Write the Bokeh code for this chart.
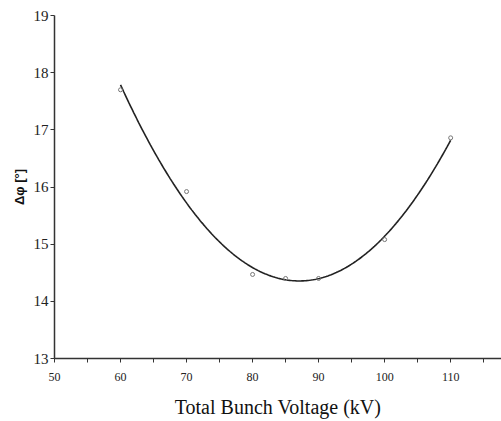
import numpy as np
from bokeh.plotting import figure
from bokeh.models import FixedTicker, Range1d
from bokeh.embed import file_html
from bokeh.resources import INLINE

# Data
voltage_kv = [60, 70, 80, 85, 90, 100, 110]
delta_phi = [17.70, 15.92, 14.47, 14.40, 14.40, 15.08, 16.86]

x_ticks = [50, 55, 60, 65, 70, 75, 80, 85, 90, 95, 100, 105, 110, 115]
x_tick_labels = {50: "50", 60: "60", 70: "70", 80: "80", 90: "90", 100: "100", 110: "110"}
y_ticks = [13, 14, 15, 16, 17, 18, 19]

# Polynomial (2nd order) trendline fitted to the data
coef = np.polyfit(voltage_kv, delta_phi, 2)
fit_x = np.linspace(min(voltage_kv), max(voltage_kv), 200)
fit_y = np.polyval(coef, fit_x)

p = figure(width=501, height=421, output_backend="svg", toolbar_location=None,
           x_range=Range1d(50, 117.7), y_range=Range1d(13, 19),
           min_border_left=54, min_border_right=0, min_border_top=15, min_border_bottom=63)
p.outline_line_color = None
p.grid.grid_line_color = None
p.background_fill_color = "white"
p.border_fill_color = "white"

p.line(fit_x, fit_y, line_color="#222222", line_width=1.6)
p.scatter(voltage_kv, delta_phi, marker="circle", size=4, fill_color=None,
          line_color="#777777", line_width=1)

xa = p.xaxis[0]
xa.ticker = FixedTicker(ticks=x_ticks)
xa.major_label_overrides = {t: x_tick_labels.get(t, "") for t in x_ticks}
xa.minor_tick_line_color = None
xa.major_tick_in = 0
xa.major_tick_out = 4
xa.major_label_standoff = 10
xa.axis_line_color = "#333333"
xa.major_tick_line_color = "#333333"
xa.axis_line_width = 1.5
xa.major_label_text_font = "Liberation Serif"
xa.major_label_text_font_size = "12px"
xa.major_label_text_color = "#222222"
xa.axis_label = "Total Bunch Voltage (kV)"
xa.axis_label_text_font = "Liberation Serif"
xa.axis_label_text_font_size = "20px"
xa.axis_label_text_font_style = "normal"
xa.axis_label_text_color = "#111111"
xa.axis_label_standoff = 12

ya = p.yaxis[0]
ya.ticker = FixedTicker(ticks=y_ticks)
ya.minor_tick_line_color = None
ya.major_tick_in = 0
ya.major_tick_out = 4
ya.major_label_standoff = 2
ya.axis_line_color = "#333333"
ya.major_tick_line_color = "#333333"
ya.axis_line_width = 1.5
ya.major_label_text_font = "Liberation Serif"
ya.major_label_text_font_size = "15px"
ya.major_label_text_color = "#222222"
ya.axis_label = "\u0394\u03c6 [\u00b0]"
ya.axis_label_text_font = "Liberation Sans"
ya.axis_label_text_font_size = "13px"
ya.axis_label_text_font_style = "bold"
ya.axis_label_text_color = "#111111"
ya.axis_label_standoff = 4

open("out.html", "w").write(file_html(p, INLINE))
